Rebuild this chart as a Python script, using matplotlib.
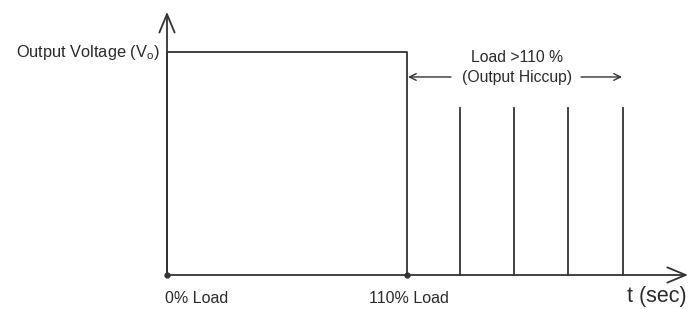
import matplotlib
matplotlib.use("Agg")
import matplotlib.pyplot as plt

plt.rcParams['font.family'] = ['Liberation Sans', 'DejaVu Sans']
plt.rcParams['mathtext.fontset'] = 'custom'
plt.rcParams['mathtext.rm'] = 'Liberation Sans'

# Data (time in arbitrary units, voltage normalised to V_o = 1)
t_start = 0.0
t_overload = 240.0
v_out = 1.0
hiccup_times = [293.0, 347.0, 401.0, 456.0]
hiccup_level = 0.75
t_axis_end = 521.0
v_axis_end = 1.18
point_labels = ["0% Load", "110% Load"]
ylabel_text = "Output Voltage (V$_{\\mathregular{o}}$)"
xlabel_text = "t (sec)"
annot_lines = ["Load >110 %", "(Output Hiccup)"]

col = "#333333"
tcol = "#2a2a2a"

fig = plt.figure(figsize=(7.0, 3.09), dpi=100)
ax = fig.add_axes([0, 0, 1, 1])
ax.set_xlim(-167, 533)
ax.set_ylim(-34 / 223, 275 / 223)
ax.axis('off')

# axes with open arrowheads
ax.annotate("", xy=(t_axis_end, 0), xytext=(t_start, 0),
            arrowprops=dict(arrowstyle="->,head_length=0.6,head_width=0.25", color=col, lw=1.3,
                            mutation_scale=22, shrinkA=0, shrinkB=0))
ax.annotate("", xy=(0, v_axis_end), xytext=(0, 0),
            arrowprops=dict(arrowstyle="->,head_length=0.6,head_width=0.25", color=col, lw=1.3,
                            mutation_scale=22, shrinkA=0, shrinkB=0))

# output waveform
ax.plot([t_start, t_start, t_overload, t_overload],
        [0, v_out, v_out, 0], color=col, lw=1.3)
for th in hiccup_times:
    ax.plot([th, th], [0, hiccup_level], color=col, lw=1.3)

# dots
ax.plot([t_start, t_overload], [0, 0], 'o', color=col, ms=3.5)

# labels
ax.text(-7, v_out, ylabel_text, ha='right', va='center', fontsize=11.8, color=tcol)
ax.text(t_start - 2, -0.105, point_labels[0], ha='left', va='center', fontsize=11.5, color=tcol)
ax.text(t_overload + 2, -0.105, point_labels[1], ha='center', va='center', fontsize=11.5, color=tcol)
ax.text(490, -0.095, xlabel_text, ha='center', va='center', fontsize=15.5, color=tcol)

ann_x = 350
ax.text(ann_x, 0.975, annot_lines[0], ha='center', va='center', fontsize=11.3, color=tcol)
ax.text(ann_x, 0.885, annot_lines[1], ha='center', va='center', fontsize=11.3, color=tcol)
ax.annotate("", xy=(t_overload + 1, 0.888), xytext=(284, 0.888),
            arrowprops=dict(arrowstyle="->", color=col, lw=1.0,
                            mutation_scale=12, shrinkA=0, shrinkB=0))
ax.annotate("", xy=(hiccup_times[-1] - 1, 0.888), xytext=(414, 0.888),
            arrowprops=dict(arrowstyle="->", color=col, lw=1.0,
                            mutation_scale=12, shrinkA=0, shrinkB=0))

fig.savefig("out.png", dpi=100)
